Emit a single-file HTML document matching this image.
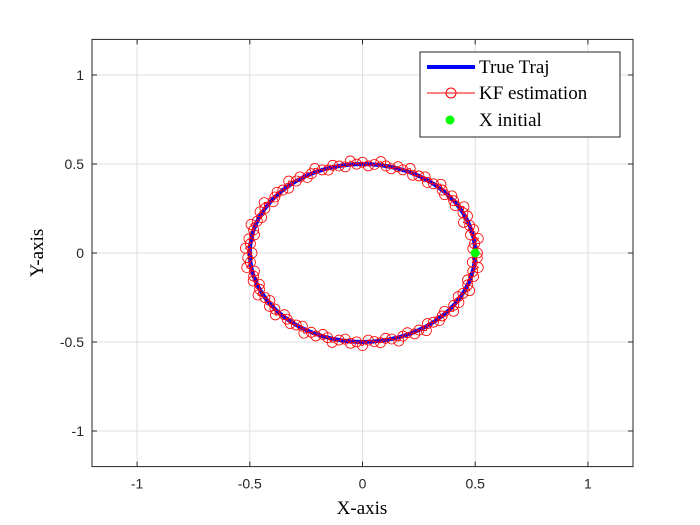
<!DOCTYPE html>
<html><head><meta charset="utf-8"><style>
body{margin:0;background:#fff}svg{display:block}
.t{font-family:"Liberation Sans",sans-serif;font-size:14px;fill:#262626}
.s{font-family:"Liberation Serif",serif;fill:#000}
</style></head><body>
<svg id="c" width="700" height="525"></svg>
<script>
const xTicks=[-1,-0.5,0,0.5,1];
const yTicks=[1,0.5,0,-0.5,-1];
const xTickLabels=["-1","-0.5","0","0.5","1"];
const yTickLabels=["1","0.5","0","-0.5","-1"];
const trueAngles=[0,5,10,15,20,25,30,35,40,45,50,55,60,65,70,75,80,85,90,95,100,105,110,115,120,125,130,135,140,145,150,155,160,165,170,175,180,185,190,195,200,205,210,215,220,225,230,235,240,245,250,255,260,265,270,275,280,285,290,295,300,305,310,315,320,325,330,335,340,345,350,355,360];
const trueRadius=0.5;
const kfAngles=[0,3,6,9,12,15,18,21,24,27,30,33,36,39,42,45,48,51,54,57,60,63,66,69,72,75,78,81,84,87,90,93,96,99,102,105,108,111,114,117,120,123,126,129,132,135,138,141,144,147,150,153,156,159,162,165,168,171,174,177,180,183,186,189,192,195,198,201,204,207,210,213,216,219,222,225,228,231,234,237,240,243,246,249,252,255,258,261,264,267,270,273,276,279,282,285,288,291,294,297,300,303,306,309,312,315,318,321,324,327,330,333,336,339,342,345,348,351,354,357];
const kfRadii=[0.51,0.49,0.5,0.52,0.49,0.51,0.5,0.48,0.51,0.5,0.52,0.49,0.5,0.51,0.49,0.5,0.52,0.5,0.49,0.51,0.5,0.49,0.52,0.5,0.51,0.49,0.5,0.52,0.5,0.49,0.51,0.5,0.52,0.49,0.5,0.51,0.49,0.5,0.52,0.5,0.49,0.51,0.5,0.52,0.49,0.5,0.51,0.5,0.49,0.52,0.5,0.51,0.49,0.5,0.52,0.5,0.49,0.51,0.5,0.52,0.49,0.51,0.5,0.52,0.49,0.5,0.51,0.49,0.5,0.52,0.5,0.49,0.51,0.5,0.52,0.49,0.5,0.51,0.5,0.49,0.52,0.5,0.51,0.49,0.5,0.52,0.5,0.49,0.51,0.5,0.52,0.49,0.5,0.51,0.49,0.5,0.52,0.5,0.49,0.51,0.5,0.52,0.49,0.5,0.51,0.5,0.49,0.52,0.5,0.51,0.49,0.5,0.52,0.5,0.49,0.51,0.5,0.52,0.49,0.51];
const xInit=[0.5,0];
const X0=92,X1=633,Y0=466.6,Y1=39.4,XMIN=-1.2,XMAX=1.2,YMIN=-1.2,YMAX=1.2;
const sx=v=>X0+(v-XMIN)/(XMAX-XMIN)*(X1-X0);
const sy=v=>Y0+(v-YMIN)/(YMAX-YMIN)*(Y1-Y0);
const svg=document.getElementById('c');const NS='http://www.w3.org/2000/svg';
function mk(t,a,p){const e=document.createElementNS(NS,t);for(const k in a)e.setAttribute(k,a[k]);(p||svg).appendChild(e);return e;}
let e=mk('rect',{x:X0,y:Y1,width:X1-X0,height:Y0-Y1,fill:'#fff'});


xTicks.forEach((v,i)=>{
 let g=mk('line',{x1:sx(v),x2:sx(v),y1:Y1,y2:Y0,stroke:'#dfdfdf','stroke-width':1});
 
 
 mk('line',{x1:sx(v),x2:sx(v),y1:Y0,y2:Y0-5,stroke:'#262626'});mk('line',{x1:sx(v),x2:sx(v),y1:Y1,y2:Y1+5,stroke:'#262626'});
 let t=mk('text',{x:sx(v),y:Y0+22,'text-anchor':'middle',class:'t'});t.textContent=xTickLabels[i];
 
 
});
yTicks.forEach((v,i)=>{
 let g=mk('line',{x1:X0,x2:X1,y1:sy(v),y2:sy(v),stroke:'#dfdfdf','stroke-width':1});
 
 
 mk('line',{x1:X0,x2:X0+5,y1:sy(v),y2:sy(v),stroke:'#262626'});mk('line',{x1:X1,x2:X1-5,y1:sy(v),y2:sy(v),stroke:'#262626'});
 let t=mk('text',{x:X0-8,y:sy(v)+5,'text-anchor':'end',class:'t'});t.textContent=yTickLabels[i];
 
 
});
e=mk('rect',{x:X0,y:Y1,width:X1-X0,height:Y0-Y1,fill:'none',stroke:'#262626'});


const tp=trueAngles.map(a=>sx(trueRadius*Math.cos(a*Math.PI/180))+','+sy(trueRadius*Math.sin(a*Math.PI/180))).join(' ');
e=mk('polyline',{points:tp,fill:'none',stroke:'#0000ff','stroke-width':4});


const kx=kfAngles.map((a,i)=>kfRadii[i]*Math.cos(a*Math.PI/180));
const ky=kfAngles.map((a,i)=>kfRadii[i]*Math.sin(a*Math.PI/180));
e=mk('polyline',{points:kx.map((x,i)=>sx(x)+','+sy(ky[i])).join(' '),fill:'none',stroke:'#ff0000','stroke-width':1});


kx.forEach((x,i)=>{
 let c=mk('circle',{cx:sx(x),cy:sy(ky[i]),r:5,fill:'none',stroke:'#ff0000','stroke-width':0.8});
 
 
});
e=mk('circle',{cx:sx(xInit[0]),cy:sy(xInit[1]),r:4.5,fill:'#00ff00'});


let t=mk('text',{x:362,y:514,'text-anchor':'middle',class:'s','font-size':19});t.textContent='X-axis';


t=mk('text',{x:0,y:0,'text-anchor':'middle',class:'s','font-size':19,transform:'translate(43,253) rotate(-90)'});t.textContent='Y-axis';


const lg=mk('g',{});


mk('rect',{x:420,y:52,width:200,height:85,fill:'#fff',stroke:'#262626'},lg);
mk('line',{x1:427,x2:475,y1:67,y2:67,stroke:'#0000ff','stroke-width':4},lg);
mk('line',{x1:427,x2:475,y1:93,y2:93,stroke:'#ff0000','stroke-width':1},lg);
mk('circle',{cx:451,cy:93,r:5,fill:'none',stroke:'#ff0000'},lg);
mk('circle',{cx:450,cy:120,r:4.5,fill:'#00ff00'},lg);
[['True Traj',73,'legend-entry-true-traj'],['KF estimation',99,'legend-entry-kf-estimation'],['X initial',126,'legend-entry-x-initial']].forEach(d=>{
 const tt=mk('text',{x:479,y:d[1],class:'s','font-size':19},lg);tt.textContent=d[0];
 
 
});
</script>
</body></html>
